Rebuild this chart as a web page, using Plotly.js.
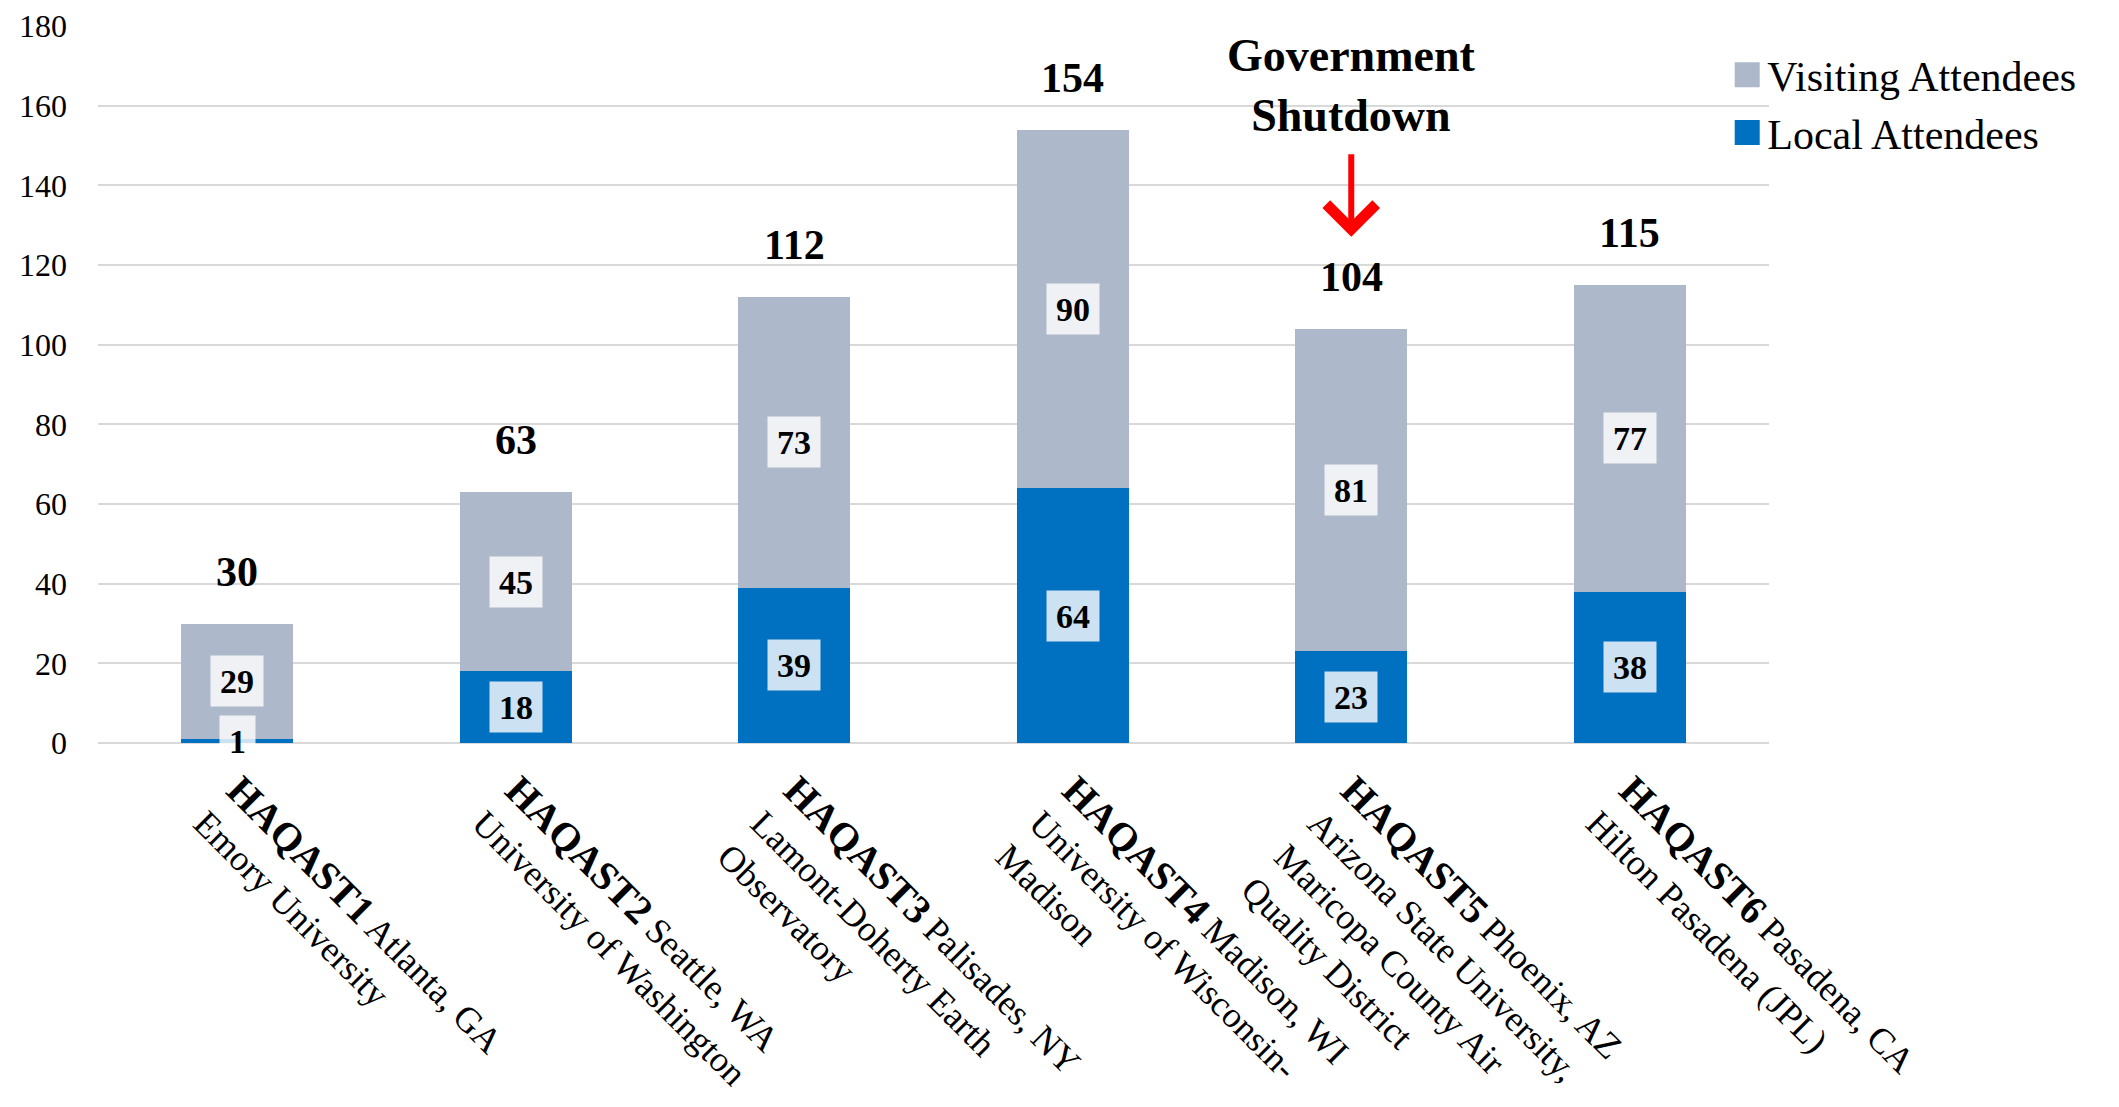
<!DOCTYPE html>
<html>
<head>
<meta charset="utf-8">
<script src="https://cdn.plot.ly/plotly-3.0.1.min.js"></script>
<style>
  html, body { margin: 0; padding: 0; background: #ffffff; }
  #chart { width: 2119px; height: 1107px; }
</style>
</head>
<body>
<div id="chart"></div>
<script>
// ---- data ----
const sites = ['HAQAST1', 'HAQAST2', 'HAQAST3', 'HAQAST4', 'HAQAST5', 'HAQAST6'];
const cities = ['Atlanta, GA', 'Seattle, WA', 'Palisades, NY', 'Madison, WI', 'Phoenix, AZ', 'Pasadena, CA'];
const venues = [
  'Emory University',
  'University of Washington',
  'Lamont-Doherty Earth<br>Observatory',
  'University of Wisconsin-<br>Madison',
  'Arizona State University,<br>Maricopa County Air<br>Quality District',
  'Hilton Pasadena (JPL)'
];
const localAttendees = [1, 18, 39, 64, 23, 38];
const visitingAttendees = [29, 45, 73, 90, 81, 77];
const totalAttendees = [30, 63, 112, 154, 104, 115];
const noteSite = 'HAQAST5';
const noteText = 'Government<br>Shutdown';

// ---- styles ----
const FONT = 'Liberation Serif';
const COLOR_LOCAL = '#0070C0';
const COLOR_VISIT = '#ADB9CA';

const tickText = sites.map((s, i) =>
  '<span style="font-size:40px"><b>' + s + '</b></span> ' + cities[i] + '<br>' + venues[i]);

const traces = [
  {
    type: 'bar', name: 'Local Attendees', x: sites, y: localAttendees,
    marker: { color: COLOR_LOCAL }, hoverinfo: 'y+name'
  },
  {
    type: 'bar', name: 'Visiting Attendees', x: sites, y: visitingAttendees,
    marker: { color: COLOR_VISIT }, hoverinfo: 'y+name'
  }
];

const annotations = [];
const boxLabel = (x, y, v) => ({
  x: x, y: y, xref: 'x', yref: 'y', text: '<b>' + v + '</b>', showarrow: false,
  font: { family: FONT, size: 34, color: '#000' },
  bgcolor: 'rgba(255,255,255,0.8)', borderpad: 9, height: 32,
  xanchor: 'center', yanchor: 'middle'
});
sites.forEach((s, i) => {
  annotations.push(boxLabel(s, localAttendees[i] / 2, localAttendees[i]));
  annotations.push(boxLabel(s, localAttendees[i] + visitingAttendees[i] / 2, visitingAttendees[i]));
  annotations.push({
    x: s, y: totalAttendees[i], xref: 'x', yref: 'y', text: '<b>' + totalAttendees[i] + '</b>',
    showarrow: false, yshift: 52, yanchor: 'middle',
    font: { family: FONT, size: 42, color: '#000' }
  });
});
const noteIdx = sites.indexOf(noteSite);
annotations.push({
  x: noteSite, y: totalAttendees[noteIdx], xref: 'x', yref: 'y', text: '<b>' + noteText + '</b>',
  showarrow: false, yshift: 243, yanchor: 'middle',
  font: { family: FONT, size: 46, color: '#000' }
});
annotations.push({
  x: noteSite, y: totalAttendees[noteIdx], xref: 'x', yref: 'y', text: '',
  showarrow: true, arrowhead: 4, arrowsize: 1.6, arrowwidth: 6, arrowcolor: '#FF0000',
  ax: 0, ay: -84, yshift: 92, standoff: 0
});

const layout = {
  width: 2119, height: 1107,
  margin: { l: 98, r: 350, t: 26, b: 364 },
  paper_bgcolor: '#ffffff', plot_bgcolor: '#ffffff',
  font: { family: FONT, color: '#000' },
  barmode: 'stack', bargap: 0.598,
  showlegend: true,
  legend: {
    x: 0.975, y: 0.979, xanchor: 'left', yanchor: 'top',
    traceorder: 'reversed', bgcolor: 'rgba(0,0,0,0)',
    font: { family: FONT, size: 42, color: '#000' },
    itemwidth: 30
  },
  xaxis: {
    type: 'category', tickvals: sites, ticktext: tickText, tickangle: 45,
    tickfont: { family: FONT, size: 36, color: '#000' },
    showline: false, showgrid: false, ticks: '', ticklabelstandoff: 18, automargin: false
  },
  yaxis: {
    range: [0, 180], dtick: 20, tick0: 0,
    tickfont: { family: FONT, size: 32, color: '#000' },
    gridcolor: '#D9D9D9', gridwidth: 2, zeroline: true, zerolinecolor: '#D9D9D9', zerolinewidth: 2,
    showline: false, ticks: '', ticklabelstandoff: 30, automargin: false
  },
  annotations: annotations
};

Plotly.newPlot('chart', traces, layout, { displayModeBar: false, staticPlot: true }).then(gd => {
  // enlarge the legend colour squares (keep Plotly's own translate) to match the reference 25 px squares
  gd.querySelectorAll('.legend .legendpoints path').forEach(p => {
    p.setAttribute('d', 'M12.5,12.5H-12.5V-12.5H12.5Z');
  });
});
</script>
</body>
</html>
